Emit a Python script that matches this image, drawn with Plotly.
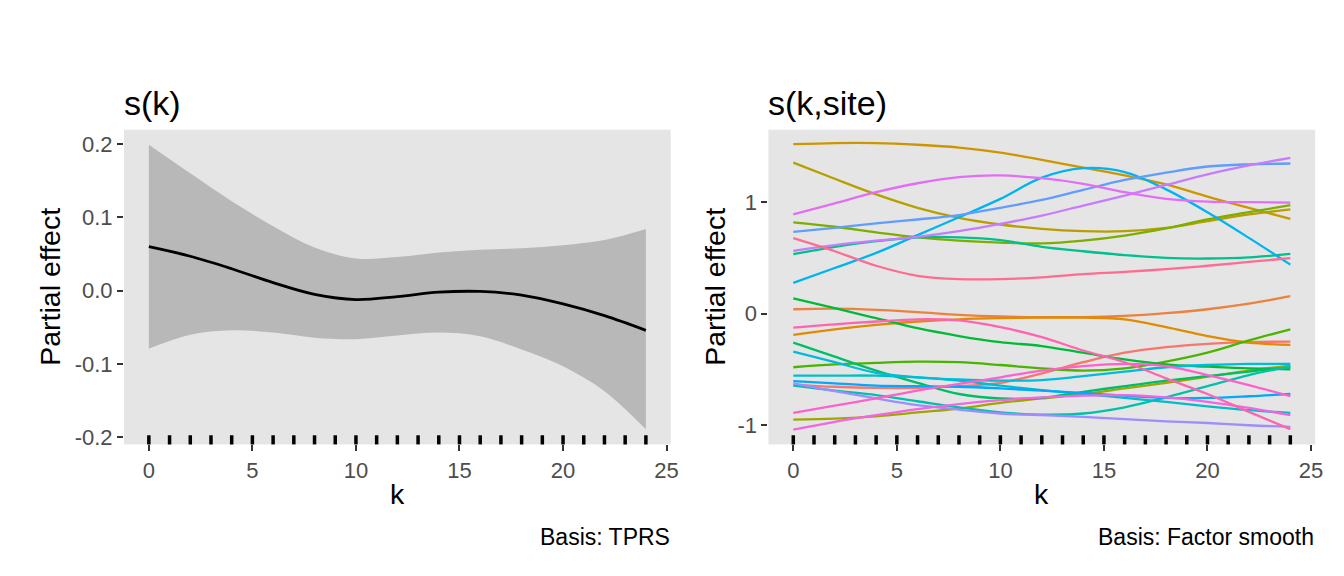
import math
import plotly.graph_objects as go

# ---- data ----
k_grid = [0, 2, 4, 6, 8, 10, 12, 14, 16, 18, 20, 22, 24]
rug_k = list(range(0, 25))

# s(k): estimate and confidence band
s_k_fit = [0.060, 0.047, 0.030, 0.011, -0.005, -0.012, -0.008, -0.002, -0.001, -0.006, -0.018, -0.034, -0.054]
s_k_upper = [0.199, 0.160, 0.122, 0.088, 0.059, 0.044, 0.046, 0.052, 0.056, 0.058, 0.062, 0.069, 0.084]
s_k_lower = [-0.079, -0.060, -0.054, -0.057, -0.064, -0.066, -0.061, -0.057, -0.062, -0.080, -0.103, -0.137, -0.189]

# s(k,site): one curve per site, ordered as the default hue palette
site_01 = [-0.635, -0.655, -0.665, -0.665, -0.650, -0.620, -0.535, -0.435, -0.350, -0.300, -0.270, -0.255, -0.250]
site_02 = [0.040, 0.045, 0.035, 0.015, -0.010, -0.025, -0.030, -0.030, -0.020, 0.005, 0.040, 0.090, 0.157]
site_03 = [-0.190, -0.140, -0.100, -0.070, -0.050, -0.040, -0.035, -0.035, -0.050, -0.120, -0.200, -0.260, -0.280]
site_04 = [1.520, 1.530, 1.530, 1.515, 1.490, 1.445, 1.380, 1.310, 1.240, 1.160, 1.050, 0.950, 0.850]
site_05 = [1.355, 1.210, 1.070, 0.950, 0.860, 0.800, 0.760, 0.740, 0.740, 0.770, 0.830, 0.890, 0.935]
site_06 = [-0.950, -0.940, -0.920, -0.885, -0.850, -0.800, -0.760, -0.720, -0.670, -0.620, -0.565, -0.510, -0.466]
site_07 = [0.820, 0.780, 0.730, 0.685, 0.655, 0.638, 0.630, 0.655, 0.700, 0.765, 0.845, 0.910, 0.973]
site_08 = [-0.480, -0.455, -0.440, -0.430, -0.435, -0.460, -0.490, -0.510, -0.490, -0.430, -0.350, -0.240, -0.140]
site_09 = [0.137, 0.050, -0.040, -0.130, -0.200, -0.255, -0.290, -0.350, -0.410, -0.455, -0.475, -0.490, -0.500]
site_10 = [-0.260, -0.385, -0.510, -0.620, -0.720, -0.760, -0.755, -0.700, -0.650, -0.600, -0.560, -0.520, -0.480]
site_11 = [0.534, 0.600, 0.650, 0.685, 0.685, 0.660, 0.600, 0.560, 0.525, 0.500, 0.495, 0.505, 0.537]
site_12 = [-0.645, -0.690, -0.730, -0.785, -0.840, -0.885, -0.905, -0.895, -0.840, -0.750, -0.650, -0.550, -0.475]
site_13 = [-0.555, -0.555, -0.555, -0.570, -0.600, -0.645, -0.685, -0.720, -0.755, -0.790, -0.830, -0.865, -0.890]
site_14 = [-0.340, -0.435, -0.530, -0.570, -0.590, -0.600, -0.595, -0.560, -0.520, -0.480, -0.460, -0.450, -0.450]
site_15 = [0.276, 0.410, 0.545, 0.705, 0.865, 1.030, 1.220, 1.305, 1.270, 1.115, 0.910, 0.680, 0.440]
site_16 = [-0.605, -0.625, -0.645, -0.650, -0.655, -0.670, -0.690, -0.710, -0.735, -0.755, -0.755, -0.740, -0.720]
site_17 = [0.733, 0.770, 0.810, 0.845, 0.885, 0.950, 1.020, 1.110, 1.200, 1.265, 1.320, 1.340, 1.347]
site_18 = [-0.625, -0.695, -0.760, -0.820, -0.860, -0.895, -0.910, -0.925, -0.945, -0.965, -0.980, -1.000, -1.015]
site_19 = [0.564, 0.615, 0.655, 0.690, 0.740, 0.805, 0.880, 0.970, 1.060, 1.155, 1.250, 1.330, 1.398]
site_20 = [0.890, 0.990, 1.090, 1.170, 1.225, 1.240, 1.215, 1.165, 1.090, 1.030, 1.005, 1.000, 0.997]
site_21 = [-1.040, -0.970, -0.910, -0.855, -0.810, -0.775, -0.750, -0.735, -0.730, -0.750, -0.790, -0.845, -0.910]
site_22 = [-0.890, -0.825, -0.760, -0.690, -0.630, -0.570, -0.510, -0.470, -0.450, -0.470, -0.550, -0.640, -0.740]
site_23 = [-0.125, -0.095, -0.070, -0.050, -0.060, -0.120, -0.210, -0.330, -0.435, -0.580, -0.720, -0.880, -1.035]
site_24 = [0.677, 0.560, 0.430, 0.340, 0.310, 0.310, 0.325, 0.355, 0.375, 0.400, 0.430, 0.465, 0.498]

site_curves = [site_01, site_02, site_03, site_04, site_05, site_06, site_07, site_08,
               site_09, site_10, site_11, site_12, site_13, site_14, site_15, site_16,
               site_17, site_18, site_19, site_20, site_21, site_22, site_23, site_24]

left_yticks = [0.2, 0.1, 0.0, -0.1, -0.2]
left_ytext = ["0.2", "0.1", "0.0", "-0.1", "-0.2"]
right_yticks = [1, 0, -1]
right_ytext = ["1", "0", "-1"]
x_ticks = [0, 5, 10, 15, 20, 25]


def hcl_hex(h, c=100.0, l=65.0):
    # polar LUV -> sRGB, like R's hcl()
    hr = math.radians(h)
    u = c * math.cos(hr)
    v = c * math.sin(hr)
    xn, yn, zn = 95.047, 100.0, 108.883
    y = yn * ((l + 16) / 116) ** 3
    un = 4 * xn / (xn + 15 * yn + 3 * zn)
    vn = 9 * yn / (xn + 15 * yn + 3 * zn)
    up = u / (13 * l) + un
    vp = v / (13 * l) + vn
    x = 9.0 * y * up / (4 * vp)
    z = y * (12 - 3 * up - 20 * vp) / (4 * vp)
    x, y, z = x / 100, y / 100, z / 100
    rgb = [3.240479 * x - 1.537150 * y - 0.498535 * z,
           -0.969256 * x + 1.875992 * y + 0.041556 * z,
           0.055648 * x - 0.204043 * y + 1.057311 * z]
    out = []
    for ch in rgb:
        ch = 12.92 * ch if ch <= 0.0031308 else 1.055 * ch ** (1 / 2.4) - 0.055
        out.append(int(round(min(max(ch, 0), 1) * 255)))
    return "#%02X%02X%02X" % tuple(out)


n_sites = len(site_curves)
site_colours = [hcl_hex(15 + 360 * i / n_sites) for i in range(n_sites)]

font = "Liberation Sans, Arial, sans-serif"
panel_bg = "#E5E5E5"

fig = go.Figure()

# left panel: ribbon + fit
fig.add_trace(go.Scatter(x=k_grid, y=s_k_lower, mode="lines", line=dict(width=0, shape="spline"),
                         xaxis="x", yaxis="y", showlegend=False, hoverinfo="skip"))
fig.add_trace(go.Scatter(x=k_grid, y=s_k_upper, mode="lines", line=dict(width=0, shape="spline"),
                         fill="tonexty", fillcolor="#B8B8B8",
                         xaxis="x", yaxis="y", showlegend=False, hoverinfo="skip"))
fig.add_trace(go.Scatter(x=k_grid, y=s_k_fit, mode="lines", line=dict(color="black", width=2.8, shape="spline"),
                         xaxis="x", yaxis="y", showlegend=False))

# right panel: one smooth per site
for i, vals in enumerate(site_curves):
    fig.add_trace(go.Scatter(x=k_grid, y=vals, mode="lines",
                             line=dict(color=site_colours[i], width=2.3, shape="spline"),
                             xaxis="x2", yaxis="y2", showlegend=False))

# rugs
shapes = []
for xr, yr in [("x", "y domain"), ("x2", "y2 domain")]:
    for k in rug_k:
        shapes.append(dict(type="line", xref=xr, yref=yr, x0=k, x1=k, y0=0, y1=0.029,
                           line=dict(color="black", width=3.5)))

x_dom_l = [116.7 / 1344, 666.7 / 1344]
x_dom_r = [765 / 1344, 1315 / 1344]
y_dom = [135 / 576, 453 / 576]

axis_common = dict(showgrid=False, zeroline=False, showline=False, ticks="outside", ticklen=6,
                   tickwidth=1.6, tickcolor="#333333",
                   tickfont=dict(family=font, size=22, color="#4D4D4D"))

fig.update_layout(
    width=1344, height=576,
    margin=dict(l=0, r=0, t=0, b=0),
    paper_bgcolor="white", plot_bgcolor=panel_bg,
    shapes=shapes,
    xaxis=dict(domain=x_dom_l, range=[-1.2, 25.2], tickvals=x_ticks, anchor="y", **axis_common),
    yaxis=dict(domain=y_dom, range=[-0.2095, 0.2195], tickvals=left_yticks, ticktext=left_ytext,
               anchor="x", **axis_common),
    xaxis2=dict(domain=x_dom_r, range=[-1.2, 25.2], tickvals=x_ticks, anchor="y2", **axis_common),
    yaxis2=dict(domain=y_dom, range=[-1.172, 1.65], tickvals=right_yticks, ticktext=right_ytext,
                anchor="x2", **axis_common),
)


def note(text, x, y, size, xanchor="center", yanchor="middle", angle=0, color="black"):
    fig.add_annotation(text=text, xref="paper", yref="paper", x=x / 1344, y=1 - y / 576,
                       xanchor=xanchor, yanchor=yanchor, showarrow=False, textangle=angle,
                       font=dict(family=font, size=size, color=color))


# titles, axis titles and captions
note("s(k)", 115, 96, 34, xanchor="left")
note("s(k,site)", 763, 96, 34, xanchor="left")
note("Partial effect", 42, 282, 28.5, angle=-90)
note("Partial effect", 711, 282, 28.5, angle=-90)
note("k", 392, 491, 28.5)
note("k", 1040, 491, 28.5)
note("Basis: TPRS", 668, 535, 23, xanchor="right")
note("Basis: Factor smooth", 1316, 535, 23, xanchor="right")

fig.write_html("out.html")
